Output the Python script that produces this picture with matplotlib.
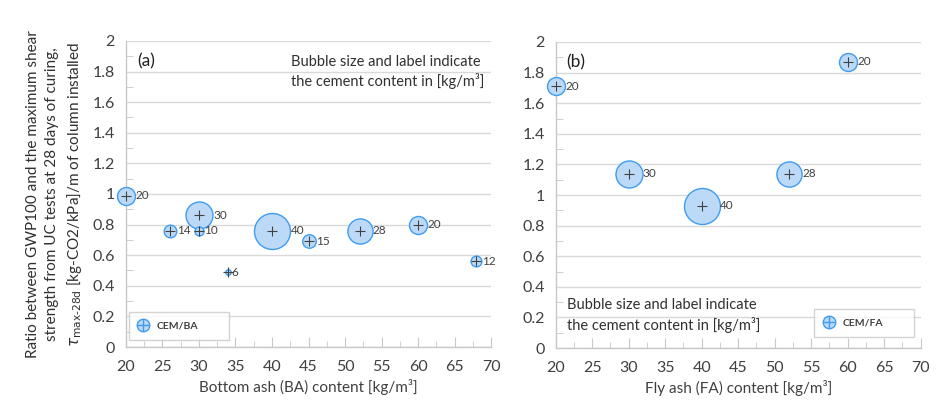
import matplotlib
matplotlib.use("Agg")
import matplotlib.pyplot as plt
from matplotlib.lines import Line2D
from matplotlib.ticker import MultipleLocator

plt.rcParams['font.family'] = ['Lato', 'DejaVu Sans']

# cement content series, bottom ash mixes (a)
ba_content = [20, 26, 30, 30, 34, 40, 45, 52, 60, 68]
ba_ratio = [0.99, 0.76, 0.86, 0.76, 0.49, 0.76, 0.69, 0.76, 0.80, 0.56]
ba_cement = [20, 14, 30, 10, 6, 40, 15, 28, 20, 12]

# fly ash mixes (b)
fa_content = [20, 30, 40, 52, 60]
fa_ratio = [1.71, 1.14, 0.93, 1.14, 1.87]
fa_cement = [20, 30, 40, 28, 20]

FILL = '#bcdaf8'
EDGE = '#3f9cf0'
TXT = '#404040'
GRID = '#d9d9d9'

fig = plt.figure(figsize=(9.36, 4.05), dpi=100)
ax_a = fig.add_axes([0.1346, 0.1432, 0.39, 0.7556])
ax_b = fig.add_axes([0.5937, 0.1407, 0.39, 0.7556])


def bubble_panel(ax, x, y, c, xlabel, tag, legend_label, legend_box):
    for xi, yi, ci in zip(x, y, c):
        d = 0.9 * ci * 0.72  # bubble diameter in points
        ax.scatter(xi, yi, s=d ** 2, facecolor=FILL, edgecolor=EDGE,
                   linewidth=1.0, zorder=3, clip_on=False)
        ax.plot(xi, yi, marker='+', ms=7.5, mew=0.8, color=TXT, zorder=4,
                clip_on=False)
        ax.annotate(str(ci), (xi, yi), xytext=(d / 2 + 0.5, 0),
                    textcoords='offset points', va='center', ha='left',
                    fontsize=8.5, color=TXT, zorder=5)

    ax.set_xlim(20, 70)
    ax.set_ylim(0, 2)
    ax.xaxis.set_major_locator(MultipleLocator(5))
    ax.xaxis.set_minor_locator(MultipleLocator(2.5))
    ax.yaxis.set_major_locator(MultipleLocator(0.2))
    ax.yaxis.set_minor_locator(MultipleLocator(0.1))
    ax.yaxis.set_major_formatter(lambda v, p: f"{v:g}")
    ax.grid(axis='y', which='major', color=GRID, linewidth=1.0, zorder=0)
    ax.set_axisbelow(True)
    for s in ('top', 'right'):
        ax.spines[s].set_visible(False)
    for s in ('left', 'bottom'):
        ax.spines[s].set_color('#c8c8c8')
        ax.spines[s].set_linewidth(1.0)
    ax.tick_params(axis='x', which='major', direction='in', length=7,
                   color='#c8c8c8', labelsize=11.5, labelcolor=TXT, pad=9)
    ax.tick_params(axis='x', which='minor', direction='in', length=4,
                   color='#c8c8c8')
    ax.tick_params(axis='y', which='major', length=0, labelsize=11.5,
                   labelcolor=TXT, pad=8)
    ax.tick_params(axis='y', which='minor', direction='in', length=5,
                   color='#c8c8c8')
    ax.set_xlabel(xlabel, fontsize=11, color=TXT, labelpad=4)
    ax.text(0.03, 0.935, tag, transform=ax.transAxes, fontsize=12.5,
            color='#202020', va='center', ha='left')

    handle = (Line2D([], [], marker='o', ms=9, mfc=FILL, mec=EDGE, mew=1.0,
                     ls='none'),
              Line2D([], [], marker='+', ms=9, mew=1.0, color=EDGE, ls='none'))
    leg = ax.legend([handle], [legend_label], loc='lower left',
                    bbox_to_anchor=legend_box, mode='expand', fontsize=7.5,
                    frameon=True, fancybox=False, borderpad=0.9,
                    handlelength=1.0, handletextpad=0.8, borderaxespad=0)
    leg.get_frame().set_edgecolor('#c8c8c8')
    leg.get_frame().set_linewidth(1.0)
    for t in leg.get_texts():
        t.set_color(TXT)
        t.set_fontweight('bold')


bubble_panel(ax_a, ba_content, ba_ratio, ba_cement,
             'Bottom ash (BA) content [kg/m³]', '(a)', 'CEM/BA',
             (0.008, 0.023, 0.274, 0.095))
bubble_panel(ax_b, fa_content, fa_ratio, fa_cement,
             'Fly ash (FA) content [kg/m³]', '(b)', 'CEM/FA',
             (0.708, 0.036, 0.274, 0.095))

note = 'Bubble size and label indicate\nthe cement content in [kg/m³]'
ax_a.text(0.452, 0.899, note, transform=ax_a.transAxes, fontsize=10.5,
          color='#303030', va='center', ha='left', linespacing=1.35)
ax_b.text(0.031, 0.107, note, transform=ax_b.transAxes, fontsize=10.5,
          color='#303030', va='center', ha='left', linespacing=1.35)

ax_a.set_ylabel('Ratio between GWP100 and the maximum shear\n'
                'strength from UC tests at 28 days of curing,\n'
                r'$\tau_{\mathrm{max\text{-}28d}}$ [kg-CO2/kPa]/m of column installed',
                fontsize=11, color='#303030', labelpad=6, linespacing=1.45)

fig.savefig('out.png', dpi=100)
